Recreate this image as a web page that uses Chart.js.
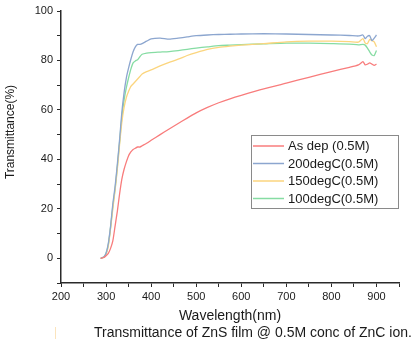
<!DOCTYPE html>
<html>
<head>
<meta charset="utf-8">
<script src="https://cdn.jsdelivr.net/npm/chart.js@4/dist/chart.umd.min.js"></script>
<style>
  html, body { margin: 0; padding: 0; background: #fff; }
  #wrap { width: 414px; height: 347px; position: relative; }
</style>
</head>
<body>
<div id="wrap"><canvas id="myTransChart"></canvas></div>
<script>
// wavelength (nm)
var wavelengths = [288,295,300,305,310,315,320,325,330,335,340,345,350,355,360,365,370,375,380,390,
  400,420,440,460,480,500,525,550,575,600,650,700,750,800,840,860,870,875,880,885,890,895,900];

// transmittance (%)
var asDep = [0,0.3,1,2,4,7,13,19,26,32, 36,39,41.5,43,44,44.5,45,45,45.5,46.5,
  47.7,50,52.3,54.5,56.7,58.8,61,62.9,64.5,65.9, 68.5,70.8,73.2,75.5,77.2,78.2,79.5,78.2,78.5,79, 78.5,78,78.5];
var deg200 = [0,0.5,2,6,13,22,29,38,48,59, 67,73,77,80.5,83.5,85.5,86.5,86.5,86.8,87.8,
  88.7,89,88.6,89,89.5,90,90.3,90.5,90.6,90.7, 90.8,90.7,90.5,90.3,90.1,89.9,90.3,88.8,89.8,90, 88,89,90.3];
var deg150 = [0,0.3,1.5,5,12,20,27.5,36,46,55, 61,65,67.5,69.5,70.5,71.5,72.5,73.5,74.5,75.5,
  76.2,77.8,79.2,80.5,82,83.2,84.5,85.3,85.8,86.2, 86.8,87.5,87.8,87.8,87.6,87.4,88.8,87,86.8,88.5, 88,87.5,85.5];
var deg100 = [0,0.5,2,5.5,12.5,21,28,37,47,57, 64,69,73,76.5,79,79.8,80.3,81.5,82.5,83,
  83.2,83.4,83.6,84,84.5,85,85.5,86,86.2,86.4, 86.7,87,87,86.8,86.6,86.3,86.5,86.2,85,83.5, 82.2,82,84];

var seriesLabels = ["As dep (0.5M)", "200degC(0.5M)", "150degC(0.5M)", "100degC(0.5M)"];
var yTitle = "Transmittance(%)";
var xTitle = "Wavelength(nm)";
var caption = "Transmittance of ZnS film @ 0.5M conc of ZnC ion.";

var FONT = "'Liberation Sans', Arial, sans-serif";

function toPoints(values) {
    return values.map(function (v, i) { return { x: wavelengths[i], y: v }; });
}

function line(label, values, color) {
    return {
        label: label,
        data: toPoints(values),
        borderColor: color,
        backgroundColor: color,
        borderWidth: 1.3,
        pointRadius: 0,
        tension: 0.2,
        fill: false
    };
}

// legend box inside the plot + rotated y title + caption
var extras = {
    id: 'extras',
    afterDraw: function (chart) {
        var ctx = chart.ctx;
        ctx.save();

        // legend
        ctx.strokeStyle = '#8a8a8a';
        ctx.lineWidth = 1;
        ctx.strokeRect(251.5, 135.5, 147, 73);
        ctx.font = "13px " + FONT;
        ctx.textBaseline = 'middle';
        ctx.textAlign = 'left';
        chart.data.datasets.forEach(function (ds, i) {
            var y = 146 + i * 17.5;
            ctx.strokeStyle = ds.borderColor;
            ctx.lineWidth = 1.5;
            ctx.beginPath();
            ctx.moveTo(253, y);
            ctx.lineTo(284, y);
            ctx.stroke();
            ctx.fillStyle = '#1a1a1a';
            ctx.fillText(ds.label, 288, y + 0.5);
        });

        // y title
        ctx.save();
        ctx.translate(11, 132);
        ctx.rotate(-Math.PI / 2);
        ctx.font = "12px " + FONT;
        ctx.textAlign = 'center';
        ctx.fillStyle = '#1a1a1a';
        ctx.fillText(yTitle, 0, 0);
        ctx.restore();

        // caption
        ctx.font = "14px " + FONT;
        ctx.textAlign = 'left';
        ctx.fillStyle = '#1a1a1a';
        ctx.fillText(caption, 94, 333);

        // faint mark left of caption
        ctx.strokeStyle = '#fbe4bd';
        ctx.lineWidth = 1;
        ctx.beginPath();
        ctx.moveTo(55.5, 327);
        ctx.lineTo(55.5, 339);
        ctx.stroke();

        ctx.restore();
    }
};

var ctxEl = document.getElementById("myTransChart");

var TransChart = new Chart(ctxEl, {
    type: 'line',
    data: {
        datasets: [
            line(seriesLabels[0], asDep, "#f87c7c"),
            line(seriesLabels[1], deg200, "#8ca6cf"),
            line(seriesLabels[2], deg150, "#fbd57e"),
            line(seriesLabels[3], deg100, "#86dca3")
        ]
    },
    options: {
        responsive: true,
        maintainAspectRatio: false,
        animation: false,
        layout: { padding: { top: 11, right: 15, left: 0, bottom: 0 } },
        plugins: {
            legend: { display: false },
            tooltip: { enabled: false }
        },
        scales: {
            x: {
                type: 'linear',
                min: 200,
                max: 950,
                afterFit: function (scale) { scale.height = 64; },
                border: { display: true, color: '#2a2a2a', width: 1.5 },
                grid: { drawOnChartArea: false, drawTicks: true, tickLength: 4, color: '#2a2a2a' },
                ticks: {
                    stepSize: 50,
                    autoSkip: false,
                    maxRotation: 0,
                    padding: 3,
                    color: '#1a1a1a',
                    font: { family: FONT, size: 11 },
                    callback: function (v) { return (v % 100 === 0 && v <= 900) ? v : ''; }
                },
                title: {
                    display: true,
                    text: xTitle,
                    color: '#1a1a1a',
                    font: { family: FONT, size: 14 },
                    padding: { top: 0, bottom: 22 }
                }
            },
            y: {
                min: -10,
                max: 100,
                afterFit: function (scale) { scale.width = 61; },
                border: { display: true, color: '#2a2a2a', width: 1.5 },
                grid: { drawOnChartArea: false, drawTicks: true, tickLength: 4, color: '#2a2a2a' },
                ticks: {
                    stepSize: 10,
                    autoSkip: false,
                    padding: 4,
                    color: '#1a1a1a',
                    font: { family: FONT, size: 11 },
                    callback: function (v) { return (v >= 0 && v % 20 === 0) ? v : ''; }
                }
            }
        }
    },
    plugins: [extras]
});
</script>
</body>
</html>
